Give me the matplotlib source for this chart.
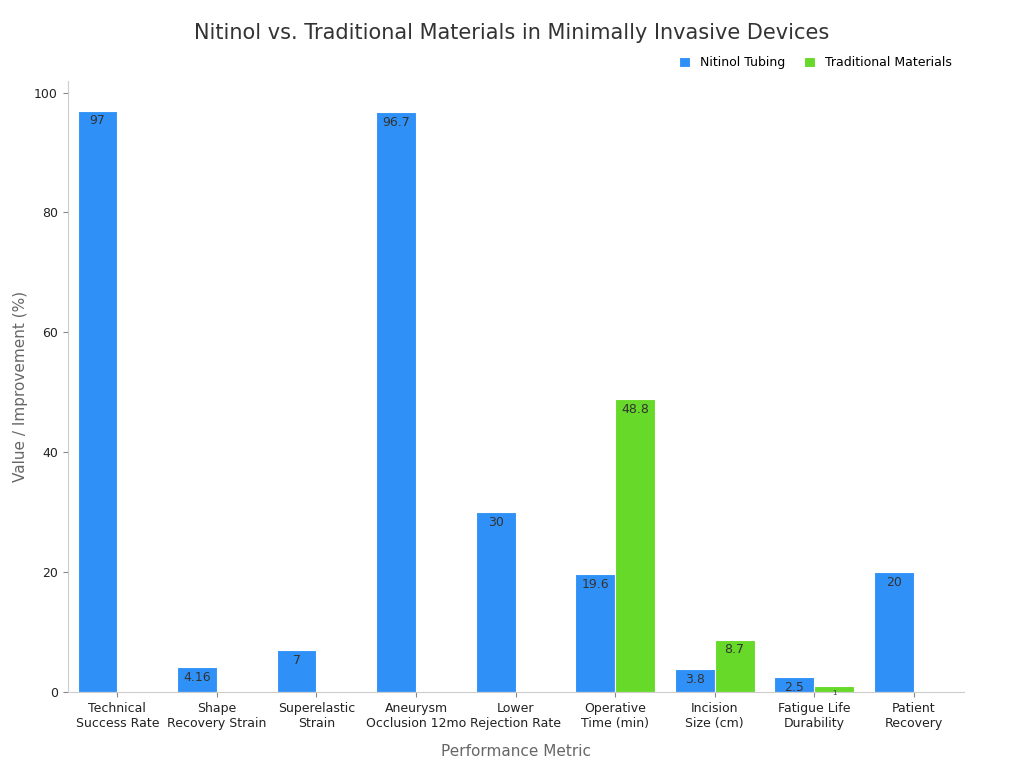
import numpy as np
import matplotlib.pyplot as plt

categories = ["Technical\nSuccess Rate", "Shape\nRecovery Strain", "Superelastic\nStrain",
              "Aneurysm\nOcclusion 12mo", "Lower\nRejection Rate", "Operative\nTime (min)",
              "Incision\nSize (cm)", "Fatigue Life\nDurability", "Patient\nRecovery"]
nitinol = [97, 4.16, 7, 96.7, 30, 19.6, 3.8, 2.5, 20]
traditional = [np.nan, np.nan, np.nan, np.nan, np.nan, 48.8, 8.7, 1, np.nan]

fig, ax = plt.subplots(figsize=(10.24, 7.68), dpi=100)
fig.subplots_adjust(left=0.066, right=0.941, top=0.895, bottom=0.099)

x = np.arange(len(categories))
w = 0.4
b1 = ax.bar(x - w / 2, nitinol, w, color="#2f91f8", edgecolor="white", linewidth=0.8, label="Nitinol Tubing")
b2 = ax.bar(x + w / 2, traditional, w, color="#66d929", edgecolor="white", linewidth=0.8, label="Traditional Materials")

for bars, vals in ((b1, nitinol), (b2, traditional)):
    for r, v in zip(bars, vals):
        if np.isnan(v):
            continue
        fs = 9 if v > 2 else 5
        ax.text(r.get_x() + r.get_width() / 2, v - 0.6, f"{v:g}", ha="center", va="top",
                fontsize=fs, color="#333333")

ax.set_xticks(x)
ax.set_xticklabels(categories, fontsize=9, color="#222222")
ax.set_xlim(-0.5, len(categories) - 0.5)
ax.set_ylim(0, 102)
ax.set_yticks([0, 20, 40, 60, 80, 100])
ax.tick_params(axis="y", labelsize=9, colors="#222222")
for s in ("top", "right"):
    ax.spines[s].set_visible(False)
for s in ("left", "bottom"):
    ax.spines[s].set_color("#cccccc")
ax.tick_params(color="#888888")

ax.set_xlabel("Performance Metric", fontsize=11, color="#666666", labelpad=10)
ax.set_ylabel("Value / Improvement (%)", fontsize=11, color="#666666")
fig.suptitle("Nitinol vs. Traditional Materials in Minimally Invasive Devices",
             fontsize=15, color="#333333", y=0.97)
ax.legend(loc="lower right", bbox_to_anchor=(1.0, 1.0), ncol=2, frameon=False,
          fontsize=9, handlelength=0.9, handleheight=0.9, columnspacing=1.5)

fig.savefig("out.png")
